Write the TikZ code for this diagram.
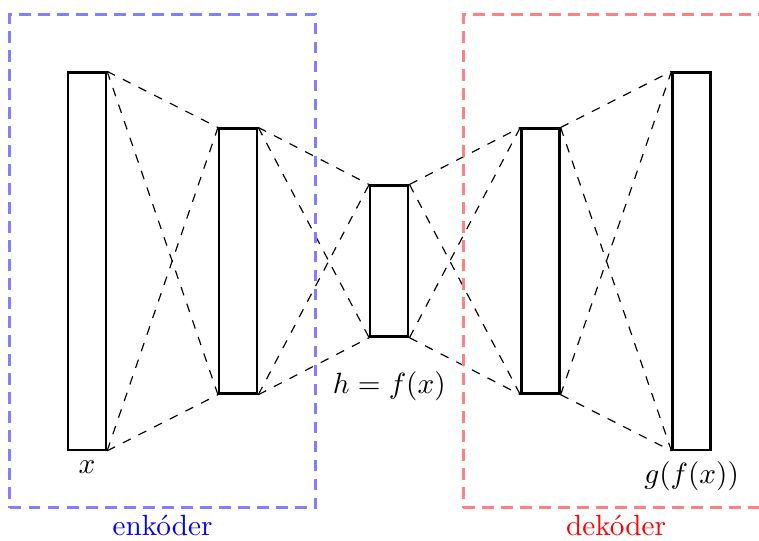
\documentclass[tikz,border=0pt]{standalone}
\usepackage{tikz}
\usetikzlibrary{positioning,fit}

\begin{document}
\begin{tikzpicture}[node distance=37.9pt]
\tikzset{
  layer/.style={draw, thick, minimum width=13pt, inner sep=0pt},
  conn/.style={dashed},
  part/.style={draw, line width=1pt, dash pattern=on 4pt off 2.5pt, inner sep=19.5pt}
}
\useasboundingbox (-29.75pt,-95.7pt) rectangle (229.85pt,89.3pt);
\node[layer, minimum height=129pt] (l1) at (0,0) {};
\node[layer, minimum height=90.6pt, right=of l1] (l2) {};
\node[layer, minimum height=51.6pt, right=of l2] (l3) {};
\node[layer, minimum height=90.6pt, right=of l3] (l4) {};
\node[layer, minimum height=129pt, right=of l4] (l5) {};
\foreach \a/\b in {l1/l2,l2/l3,l3/l4,l4/l5}{
  \draw[conn] (\a.north east) -- (\b.north west);
  \draw[conn] (\a.north east) -- (\b.south west);
  \draw[conn] (\a.south east) -- (\b.north west);
  \draw[conn] (\a.south east) -- (\b.south west);
}
\node[below=0pt of l1] (lx) {$x$};
\node[below=8pt of l3] (lh) {$h=f(x)$};
\node[below=0pt of l5] (lg) {$g(f(x))$};
\node[part, draw=blue!50, fit=(l1)(l2)] (enc) {};
\node[part, draw=red!50, fit=(l4)(l5)] (dec) {};
\node[below=-1.5pt of enc, text=blue] (lenc) {enkóder};
\node[below=-1.5pt of dec, text=red] (ldec) {dekóder};
\end{tikzpicture}
\end{document}
